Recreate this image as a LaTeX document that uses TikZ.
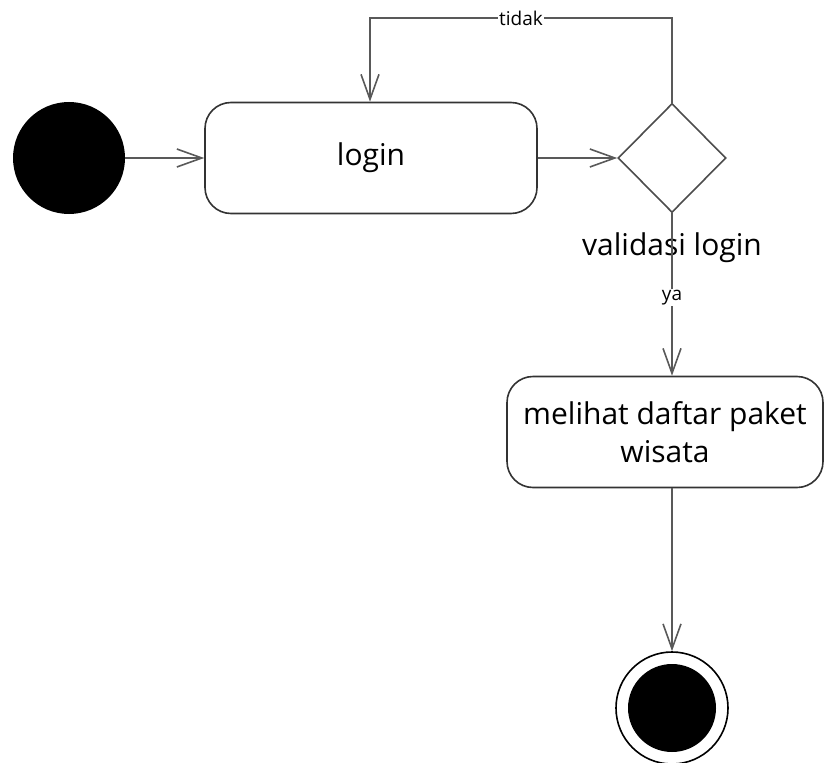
\documentclass[tikz,border=0pt]{standalone}
\usepackage{fontspec}
\setmainfont{Open Sans}
\usetikzlibrary{shapes.geometric,arrows.meta}

\begin{document}
\begin{tikzpicture}[x=1pt,y=-1pt,
  flow/.style={draw=black!65, line width=1.6pt, -{Straight Barb[length=25pt,width=18pt]}},
  aksi/.style={draw=black!80, line width=1.6pt, rounded corners=26pt, align=center,
    font=\fontsize{30}{38}\selectfont},
  kecil/.style={font=\fontsize{19}{22}\selectfont, fill=white, inner sep=1pt}]
\useasboundingbox (0,0) rectangle (826,762);

\node (A) [circle, fill=black, minimum size=112pt, inner sep=0pt] at (69,158) {};
\node (B) [aksi, minimum width=332pt, minimum height=111pt] at (371,158) {login};
\node (C) [diamond, draw=black!70, line width=1.6pt, minimum width=108pt, minimum height=109pt,
  inner sep=0pt] at (672,158) {};
\node (Clabel) [font=\fontsize{30}{36}\selectfont] at (672,248) {validasi login};
\node (D) [aksi, minimum width=316pt, minimum height=111pt] at (665,432) {melihat daftar paket\\wisata};
\node (E) [circle, draw=black, line width=1.6pt, minimum size=112pt, inner sep=0pt,
  path picture={\fill[black] (path picture bounding box.center) circle (44pt);}] at (672,708) {};

\coordinate (K) at (672,18);
\coordinate (L) at (370,18);

\draw[flow] (A) -- (B);
\draw[flow] (B) -- (C);
\draw[flow] (C.north) -- (K) -- node[kecil] {tidak} (L) -- (L |- B.north);
\draw[flow] (C.south) -- node[kecil, pos=0.52] {ya} (C.south |- D.north);
\draw[flow] (C.south |- D.south) -- (E);

\end{tikzpicture}
\end{document}
